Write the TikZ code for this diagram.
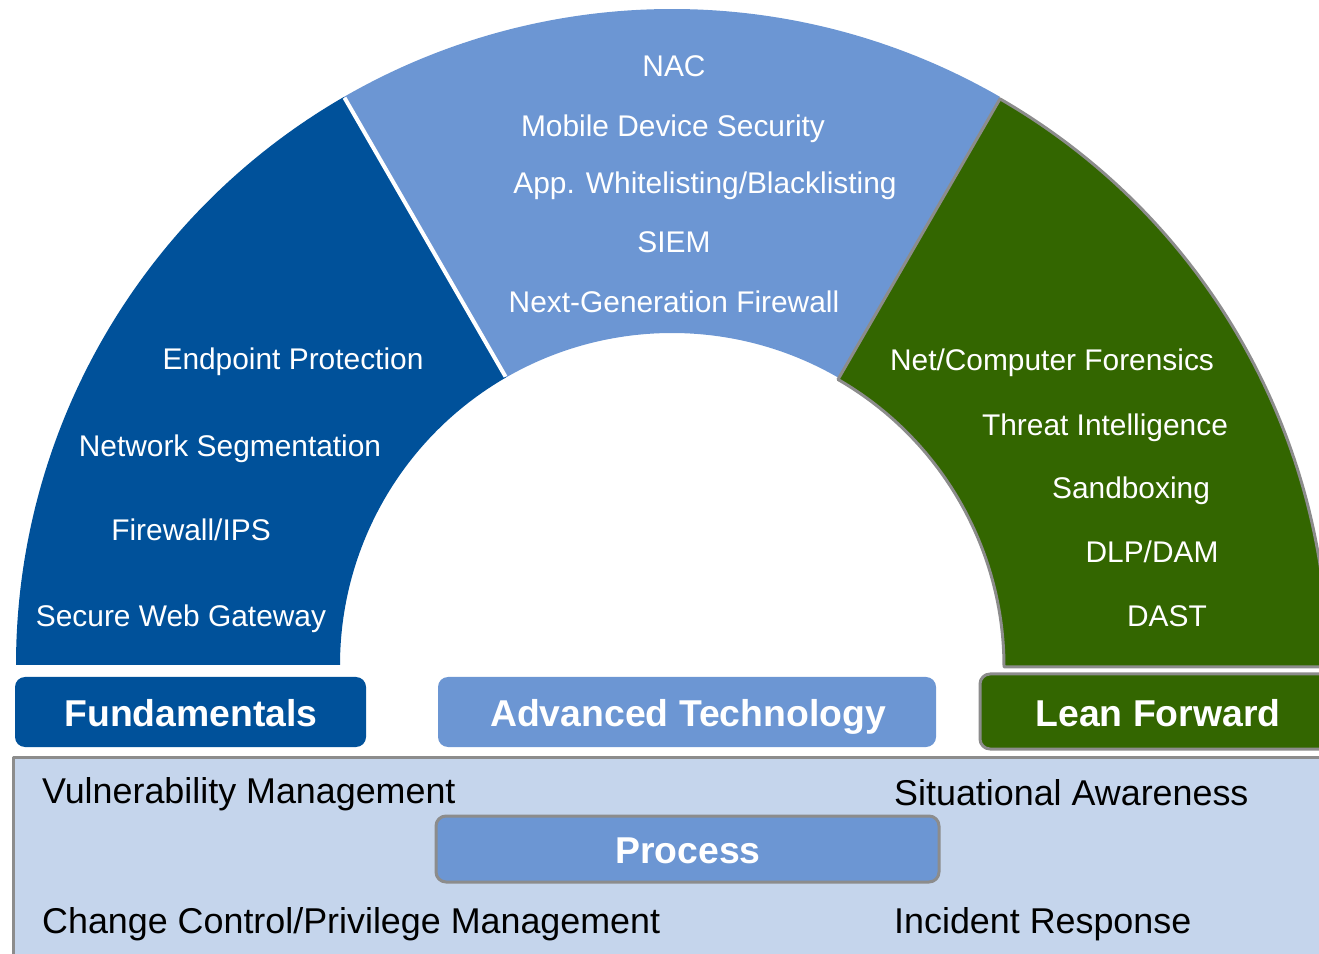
\documentclass[tikz,border=0pt]{standalone}
\usepackage{fontspec}
\setmainfont{Liberation Sans}
\definecolor{fundblue}{RGB}{0,81,154}
\definecolor{advblue}{RGB}{108,150,211}
\definecolor{leangreen}{RGB}{51,102,0}
\definecolor{procfill}{RGB}{197,213,236}
\definecolor{edgegray}{RGB}{140,140,140}
\tikzset{
  seglabel/.style={text=white,inner sep=0pt,anchor=base,font=\fontsize{30}{32}\selectfont},
  tablabel/.style={text=white,inner sep=0pt,anchor=base,font=\fontsize{37.5}{39}\selectfont\bfseries},
  proclabel/.style={text=black,inner sep=0pt,anchor=base west,font=\fontsize{36}{38}\selectfont},
  tab/.style={rounded corners=10bp},
}
\begin{document}
\begin{tikzpicture}[x=1bp,y=1bp,line join=round]
\clip (0,0) rectangle (1319,953);
%%
  % Segment: Fundamentals
  \fill [fundblue] ([shift={(672,288)}]180:656) arc [start angle=180,end angle=120,radius=656]
    -- ([shift={(672,288)}]120:332) arc [start angle=120,end angle=180,radius=332] -- cycle;
  % Segment: Advanced Technology
  \fill [advblue] ([shift={(672,288)}]120:656) arc [start angle=120,end angle=60,radius=656]
    -- ([shift={(672,288)}]60:332) arc [start angle=60,end angle=120,radius=332] -- cycle;
  \draw [white,line width=4bp] ([shift={(672,288)}]120:333) -- ([shift={(672,288)}]120:655);
  % Segment: Lean Forward
  \filldraw [fill=leangreen,draw=edgegray,line width=3bp] ([shift={(672,286)}]60:656) arc [start angle=60,end angle=0,radius=656]
    -- ([shift={(672,286)}]0:332) arc [start angle=0,end angle=60,radius=332] -- cycle;
%
  % Labels: Fundamentals
  \node [seglabel] (endpoint) at (293,583) {Endpoint Protection};
  \node [seglabel] (netseg) at (230,496) {Network Segmentation};
  \node [seglabel] (fwips) at (191,412) {Firewall/IPS};
  \node [seglabel] (swg) at (181,326) {Secure Web Gateway};
  % Labels: Advanced Technology
  \node [seglabel] (nac) at (674,876) {NAC};
  \node [seglabel] (mds) at (673,816) {Mobile Device Security};
  \node [seglabel] (appwl) at (705,759) {App. Whitelisting/Blacklisting};
  \node [seglabel] (siem) at (674,700) {SIEM};
  \node [seglabel] (ngfw) at (674,640) {Next-Generation Firewall};
  % Labels: Lean Forward
  \node [seglabel] (forensics) at (1052,582) {Net/Computer Forensics};
  \node [seglabel] (threat) at (1105,517) {Threat Intelligence};
  \node [seglabel] (sandbox) at (1131,454) {Sandboxing};
  \node [seglabel] (dlp) at (1152,390) {DLP/DAM};
  \node [seglabel] (dast) at (1167,326) {DAST};
%
  % Node: Fundamentals tab
  \fill [fundblue,tab] (15,206) rectangle (366,276);
  \node [tablabel] (fund) at (191,227) {Fundamentals};
  % Node: Advanced Technology tab
  \fill [advblue,tab] (438,206) rectangle (936,276);
  \node [tablabel] (adv) at (688,227) {Advanced Technology};
  % Node: Lean Forward tab
  \filldraw [fill=leangreen,draw=edgegray,line width=3bp,tab] (980,204) rectangle (1340,279);
  \node [tablabel] (lean) at (1158,227) {Lean Forward};
%
  % Node: Process panel
  \filldraw [fill=procfill,draw=edgegray,line width=3bp] (13,-20) rectangle (1340,196);
  \filldraw [fill=advblue,draw=edgegray,line width=3bp,tab] (436,71) rectangle (939,137);
  \node [tablabel] (proc) at (688,90) {Process};
  \node [proclabel] (vuln) at (42,150) {Vulnerability Management};
  \node [proclabel] (situ) at (894,148) {Situational Awareness};
  \node [proclabel] (change) at (42,20) {Change Control/Privilege Management};
  \node [proclabel] (incident) at (894,20) {Incident Response};
%
\end{tikzpicture}
\end{document}
